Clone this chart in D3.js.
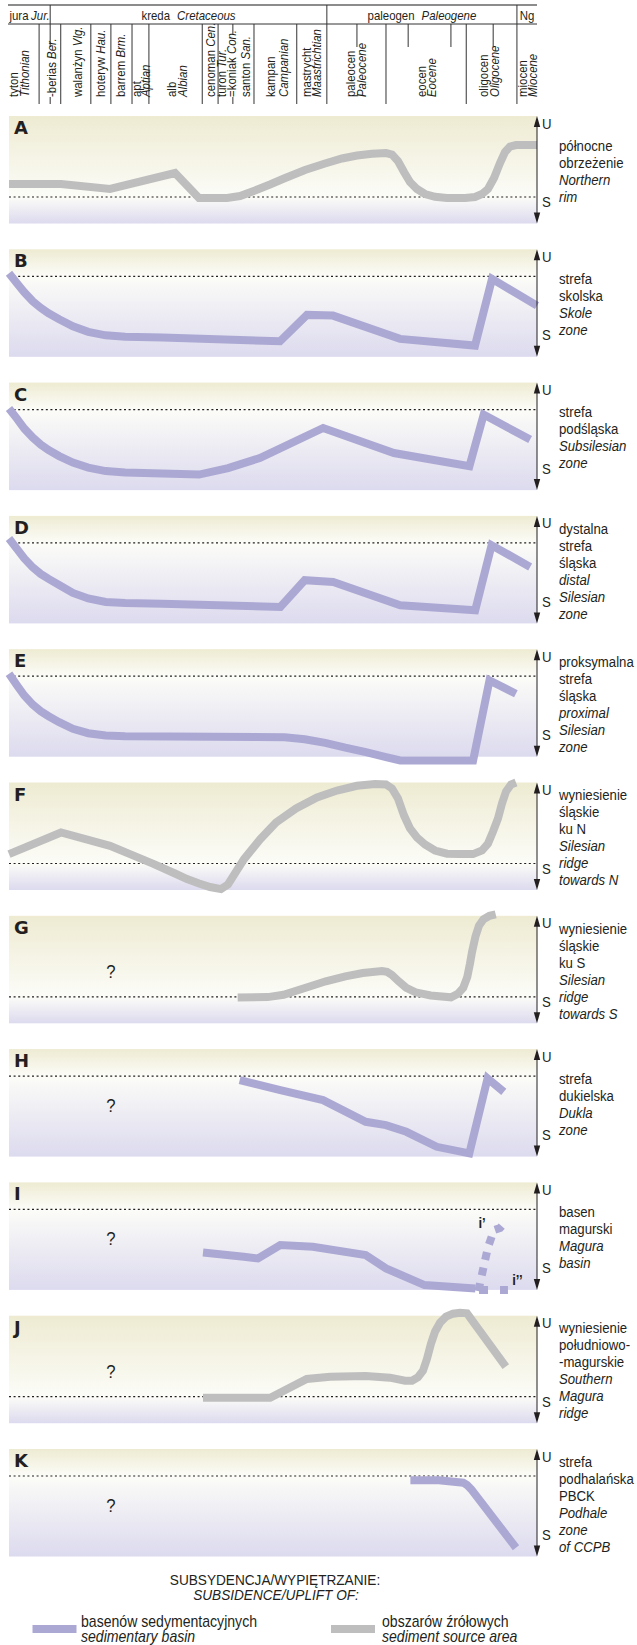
<!DOCTYPE html>
<html><head><meta charset="utf-8">
<script src="https://cdn.jsdelivr.net/npm/d3@7"></script>
<style>
body{margin:0;background:#fff}
svg{display:block}
text{font-family:"Liberation Sans",Arial,sans-serif;fill:#231f20}
.it{font-style:italic}
</style></head><body>
<svg id="c" width="637" height="1645"></svg>
<script>
// ---------- DATA ----------
// time axis in relative units (0 = start of Tithonian, 100 = Miocene end of section)
const periodNames = [["jura","Jur."],["kreda","Cretaceous"],["paleogen","Paleogene"],["Ng",""]];
const periodBounds = [0, 7.8, 60.2, 96.2, 100];
const stageBounds = [5.7, 9.8, 15.5, 19.3, 23.3, 26.5, 36.6, 39.6, 46.4, 54.5, 71.4, 86.6];
const subStageTicks = [65.9, 75.6, 83.7, 91.7];
const stageLabels = [
  {pl:"tyton", en:"Tithonian", at:[0.76, 3.0]},
  {pl:"-berias ", en:"Ber.", at:[7.95]},
  {pl:"walanżyn ", en:"Vlg.", at:[12.9]},
  {pl:"hoteryw ", en:"Hau.", at:[17.4]},
  {pl:"barrem ", en:"Brm.", at:[21.2]},
  {pl:"apt", en:"Aptian", at:[24.1, 25.8]},
  {pl:"alb", en:"Albian", at:[30.7, 32.8]},
  {pl:"cenoman ", en:"Cen.", at:[38.1]},
  {pl:"turon ", en:"Tur.", at:[40.3]},
  {pl:"=koniak ", en:"Con.", at:[42.2]},
  {pl:"santon ", en:"San.", at:[44.7]},
  {pl:"kampan", en:"Campanian", at:[49.6, 51.9]},
  {pl:"mastrycht", en:"Maastrichtian", at:[56.3, 58.3]},
  {pl:"paleocen", en:"Paleocene", at:[64.6, 66.7]},
  {pl:"eocen", en:"Eocene", at:[78.2, 80.1]},
  {pl:"oligocen", en:"Oligocene", at:[89.8, 91.9]},
  {pl:"miocen", en:"Miocene", at:[97.2, 99.2]}
];

const zoneLetters = ["A","B","C","D","E","F","G","H","I","J","K"];
const zoneKinds   = ["ridge","basin","basin","basin","basin","ridge","ridge","basin","basin","ridge","basin"];
const zoneUnknown = [false,false,false,false,false,false,true,true,true,true,true];
const zonePl = [
  ["północne","obrzeżenie"],["strefa","skolska"],["strefa","podśląska"],
  ["dystalna","strefa","śląska"],["proksymalna","strefa","śląska"],
  ["wyniesienie","śląskie","ku N"],["wyniesienie","śląskie","ku S"],
  ["strefa","dukielska"],["basen","magurski"],
  ["wyniesienie","południowo-","-magurskie"],["strefa","podhalańska","PBCK"]
];
const zoneEn = [
  ["Northern","rim"],["Skole","zone"],["Subsilesian","zone"],
  ["distal","Silesian","zone"],["proximal","Silesian","zone"],
  ["Silesian","ridge","towards N"],["Silesian","ridge","towards S"],
  ["Dukla","zone"],["Magura","basin"],
  ["Southern","Magura","ridge"],["Podhale","zone","of CCPB"]
];
// value ranges (relative subsidence/uplift, 0 = dotted reference level)
const rangeBasin = [-80.5, 27];
const rangeRidge = [-26.5, 81];

// curves: [time, relative level]
const curveA = [[0,13],[9.85,13],[19.13,8],[31.44,24],[35.98,-1],[41.29,-1],[43.75,1],[46.59,6.5],[49.43,12.5],[52.08,18.5],[56.06,27],[59.85,33.5],[63.07,38.5],[65.91,41.5],[68.75,43.3],[71.4,44],[72.54,42.5],[73.67,36],[74.81,25],[75.95,15],[77.27,8],[78.79,3],[80.68,0.2],[82.95,-1],[86.36,-1],[88.26,0],[89.58,3],[90.72,8],[91.86,19],[92.99,34],[93.94,45],[94.89,50.5],[96.02,52],[100,52]];
const curveB = [[0,3],[1.5,-7],[2.9,-16],[4.5,-25],[6,-31.5],[7.5,-37],[9.5,-43],[12.1,-50],[15,-55.5],[18.3,-59],[22,-60.5],[29,-61.3],[51.33,-65],[56.44,-38.6],[61.36,-39.3],[74.05,-62.6],[88.26,-69.3],[91.48,-2.6],[100,-29.3]];
const curveC = [[0,1],[1.5,-9],[2.9,-19],[4.5,-28],[6,-35],[7.5,-40.5],[9.5,-46.5],[12.1,-53],[15,-58],[18.3,-61.5],[22,-63],[29,-63.8],[36,-65],[41.5,-58.5],[47.5,-48.4],[59.5,-18.4],[72.9,-43.4],[87.2,-56.7],[89.9,-5],[98.7,-30]];
const curveD = [[0,4.4],[1.5,-6],[2.9,-15.6],[4.5,-24.5],[6,-31],[7.5,-36],[9.5,-42],[12.1,-50],[15,-55.5],[18.3,-59],[22,-60.2],[29,-60.8],[51.4,-64],[56,-37.3],[61.4,-39],[74.1,-62.3],[88.3,-67.3],[91.4,-2.3],[98.7,-24]];
const curveE = [[0,2.4],[1.5,-9],[2.9,-19.3],[4.5,-28.5],[6,-35],[7.5,-40],[9.5,-46],[12.1,-52.6],[15,-57],[18.3,-59.3],[22,-60],[52.2,-61],[56,-63],[59.9,-66.6],[63.7,-71.5],[67.6,-76],[71.4,-81],[74.1,-84.3],[87.9,-84.3],[91,-4.3],[96,-17.6]];
const curveF = [[0,9.4],[9.85,31],[19.13,17.7],[22.92,9.4],[27.46,-0.6],[31.44,-10],[33.71,-15.6],[36,-20],[38.07,-23.5],[40.15,-25.6],[41.48,-21],[44.51,4.4],[47.54,24],[50.57,41],[54.36,55],[58.33,66],[62.12,73],[65.91,77.7],[69.32,79.4],[71.4,79],[72.54,75],[73.67,65],[74.81,48],[75.95,35],[77.27,26],[78.79,19],[80.68,13],[82.95,9.8],[85.42,9.4],[87.88,9.4],[89.58,13],[90.72,20],[91.67,32],[92.61,45],[93.37,60],[94.13,72],[95.08,79],[96.02,81]];
const curveG = [[43.31,-0.7],[49,-0.3],[52,2],[56.78,10],[60,15.5],[63.71,20.5],[67,23.8],[70.64,25.8],[71.6,25],[72.5,22],[73.8,15.5],[75.25,9],[77,4.5],[79.87,1.3],[83.71,-0.5],[85,3],[86.02,9],[86.8,20],[87.3,33],[87.7,45],[88.33,60],[89,71],[89.87,77.5],[91,81],[92.18,82.5]];
const curveH = [[43.69,-4],[51.38,-14],[59.47,-24],[67.56,-45.7],[71.4,-49],[75.25,-55.7],[81.02,-70.7],[87.18,-77.3],[90.64,-2.3],[93.71,-15.7]];
const curveI = [[36.74,-43],[44.47,-47.4],[47.16,-49],[51.38,-35.7],[57.54,-37.4],[67.56,-45.7],[71.4,-59],[78.71,-75.7],[88.33,-79]];
const curveIprime = [[88.9,-81.7],[89.96,-55.7],[90.72,-37.7],[91.86,-20.7],[92.99,-18.7],[94.32,-10.7]];
const curveIdouble = [[89.02,-80.5],[94.5,-80.5]];
const curveJ = [[36.74,-1],[49.47,-1],[56.4,17.7],[60.8,20],[67.56,20.7],[72.16,19],[75,16],[76.33,16],[77.46,19.5],[78.41,26],[79.17,38],[79.92,53],[80.68,65],[81.63,74],[82.77,80],[84.09,83],[85.42,84],[86.74,83.4],[94.09,30]];
const curveK = [[76.02,-4.3],[81.4,-4.3],[86.02,-6.7],[86.74,-9],[87.56,-13.3],[96.02,-71.7]];
const zoneCurves = [curveA,curveB,curveC,curveD,curveE,curveF,curveG,curveH,curveI,curveJ,curveK];

const legendTitle = ["SUBSYDENCJA/WYPIĘTRZANIE:","SUBSIDENCE/UPLIFT OF:"];
const legendItems = [["basenów sedymentacyjnych","sedimentary basin"],["obszarów źrółowych","sediment source area"]];

// ---------- STYLE / LAYOUT ----------
const C_BASIN="#aca8d4", C_SOURCE="#bebebe", INK="#231f20";
const X0=9, X1=537, PANEL_TOP0=116, PANEL_STEP=133.3, PANEL_H=107.5;
const SX=0.88; // condensed type
const svg=d3.select("#c");
const x=d3.scaleLinear().domain([0,100]).range([X0,X1]);
const defs=svg.append("defs");
function T(p,tx,ty,size,rot){
  return p.append("text")
    .attr("transform",`translate(${tx},${ty})${rot?` rotate(${rot})`:""} scale(${SX},1)`)
    .attr("font-size",size);
}

// ---------- HEADER ----------
const hdr=svg.append("g");
hdr.append("line").attr("x1",8).attr("x2",X1).attr("y1",5).attr("y2",5).attr("stroke","#8c8c8c").attr("stroke-width",2);
hdr.append("line").attr("x1",8).attr("x2",X1).attr("y1",24).attr("y2",24).attr("stroke","#333").attr("stroke-width",1);
function vline(u,y1,y2){hdr.append("line").attr("x1",x(u)).attr("x2",x(u)).attr("y1",y1).attr("y2",y2).attr("stroke","#333").attr("stroke-width",1);}
vline(periodBounds[1],5,47); vline(periodBounds[1],97,104);
vline(periodBounds[2],5,104); vline(periodBounds[3],5,104);
stageBounds.forEach(u=>vline(u,24,104));
subStageTicks.forEach(u=>vline(u,24,47));
vline(42.4,24,34); vline(42.4,97,104);

periodNames.forEach((p,i)=>{
  const cx=x((periodBounds[i]+periodBounds[i+1])/2);
  const t=T(hdr,cx,19.5,13).attr("text-anchor","middle");
  t.append("tspan").text(p[0]);
  if(p[1]) t.append("tspan").attr("class","it").attr("dx",i===0?3:8).text(p[1]);
});
stageLabels.forEach(s=>{
  if(s.at.length===1){
    const t=T(hdr,x(s.at[0]),97,13,-90).attr("dy","0.35em");
    t.append("tspan").text(s.pl);
    t.append("tspan").attr("class","it").text(s.en);
  } else {
    T(hdr,x(s.at[0]),97,13,-90).attr("dy","0.35em").text(s.pl);
    T(hdr,x(s.at[1]),97,13,-90).attr("dy","0.35em").attr("class","it").text(s.en);
  }
});

// ---------- PANELS ----------
const line=d3.line().x(d=>x(d[0]));
zoneLetters.forEach((L,i)=>{
  const top=PANEL_TOP0+i*PANEL_STEP, bot=top+PANEL_H;
  const kind=zoneKinds[i];
  const y=d3.scaleLinear().domain(kind==="basin"?rangeBasin:rangeRidge).range([bot,top]);
  const y0=y(0), frac=(y0-top)/PANEL_H;
  const g=svg.append("g");
  const gid="grad"+i;
  const gr=defs.append("linearGradient").attr("id",gid).attr("x1",0).attr("x2",0).attr("y1",0).attr("y2",1);
  gr.append("stop").attr("offset",0).attr("stop-color","#eeebd2");
  gr.append("stop").attr("offset",frac).attr("stop-color","#fcfcf8");
  gr.append("stop").attr("offset",1).attr("stop-color","#dcdaee");
  g.append("rect").attr("x",X0).attr("y",top).attr("width",X1-X0).attr("height",PANEL_H).attr("fill",`url(#${gid})`);
  g.append("line").attr("x1",X0).attr("x2",X1).attr("y1",y0).attr("y2",y0).attr("stroke",INK).attr("stroke-width",1.2).attr("stroke-dasharray","2,2.6");
  // letter
  g.append("text").attr("x",14).attr("y",top+18).attr("font-size",18).style("font-family","'DejaVu Sans',sans-serif").attr("font-weight",900).text(L);
  if(zoneUnknown[i]) T(g,x(19.3),top+56,19).attr("dy","0.35em").attr("text-anchor","middle").text("?");
  // curve
  line.y(d=>y(d[1]));
  const col=kind==="basin"?C_BASIN:C_SOURCE;
  g.append("path").attr("d",line(zoneCurves[i])).attr("fill","none").attr("stroke",col).attr("stroke-width",8).attr("stroke-linejoin","miter");
  if(L==="I"){
    g.append("path").attr("d",line(curveIprime)).attr("fill","none").attr("stroke",col).attr("stroke-width",8).attr("stroke-dasharray","8,8");
    g.append("path").attr("d",line(curveIdouble)).attr("fill","none").attr("stroke",col).attr("stroke-width",8).attr("stroke-dasharray","9,12");
    T(g,x(88.9),y(-18.5),15).attr("font-weight","bold").text("i’");
    T(g,x(95.3),y(-75.5),15).attr("font-weight","bold").text("i’’");
  }
  // axis arrow
  g.append("line").attr("x1",X1).attr("x2",X1).attr("y1",top+4).attr("y2",bot-4).attr("stroke",INK).attr("stroke-width",1);
  g.append("path").attr("d",`M${X1},${top}L${X1-3.2},${top+11}L${X1+3.2},${top+11}Z`).attr("fill",INK);
  g.append("path").attr("d",`M${X1},${bot}L${X1-3.2},${bot-11}L${X1+3.2},${bot-11}Z`).attr("fill",INK);
  T(g,X1+5,top+12.5,15).text("U");
  T(g,X1+5,top+91,15).text("S");
  // labels
  const lines=zonePl[i].map(t=>[t,false]).concat(zoneEn[i].map(t=>[t,true]));
  const first=top+55-(lines.length-1)/2*17;
  lines.forEach((ln,k)=>{
    T(g,559,first+k*17,15).attr("dy","0.35em").attr("class",ln[1]?"it":null).text(ln[0]);
  });
});

// ---------- LEGEND ----------
const lg=svg.append("g");
T(lg,275,1585,15.5).attr("text-anchor","middle").text(legendTitle[0]);
T(lg,276,1600,15.5).attr("text-anchor","middle").attr("class","it").text(legendTitle[1]);
const legX=[[32.5,81],[331,382]];
legendItems.forEach((it,k)=>{
  lg.append("rect").attr("x",legX[k][0]).attr("y",1625).attr("width",44).attr("height",8).attr("fill",k===0?C_BASIN:C_SOURCE);
  T(lg,legX[k][1],1626.5,16).text(it[0]);
  T(lg,legX[k][1],1641.5,16).attr("class","it").text(it[1]);
});
</script>
</body></html>
